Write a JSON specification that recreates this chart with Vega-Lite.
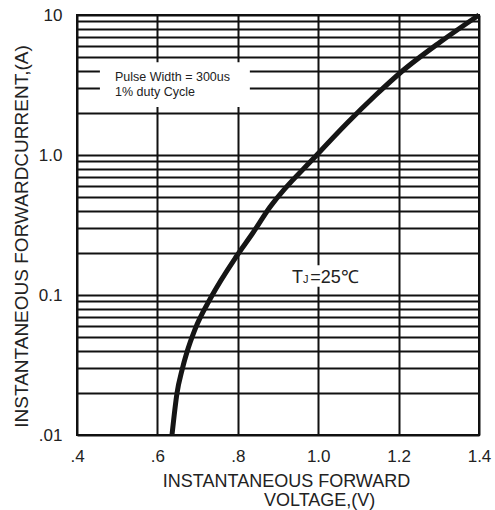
{
  "$schema": "https://vega.github.io/schema/vega-lite/v6.json",
  "autosize": "none",
  "width": 402,
  "height": 420,
  "padding": {"left": 77, "top": 15, "right": 16, "bottom": 75},
  "background": "white",
  "title": {"text": "VOLTAGE,(V)", "orient": "bottom", "anchor": "start", "frame": "group", "dx": 187, "offset": 2, "fontSize": 18, "font": "Liberation Sans", "fontWeight": "normal", "color": "#222"},
  "config": {
    "view": {"stroke": "#111", "strokeWidth": 2},
    "font": "Liberation Sans",
    "axis": {
      "grid": true, "gridColor": "#111", "gridWidth": 2, "gridOpacity": 1,
      "ticks": false, "domain": false,
      "labelFont": "Liberation Sans", "labelFontSize": 17, "labelColor": "#222",
      "titleFont": "Liberation Sans", "titleFontSize": 18, "titleFontWeight": "normal", "titleColor": "#222",
      "labelOverlap": false, "labelFlush": false
    }
  },
  "datasets": {
    "curve": [
      {"v": 0.6363, "i": 0.01},
      {"v": 0.6488, "i": 0.01995},
      {"v": 0.6612, "i": 0.0291},
      {"v": 0.6736, "i": 0.0392},
      {"v": 0.6928, "i": 0.0562},
      {"v": 0.7338, "i": 0.0967},
      {"v": 0.7955, "i": 0.1868},
      {"v": 0.8373, "i": 0.2773},
      {"v": 0.8801, "i": 0.425},
      {"v": 0.9965, "i": 1.0},
      {"v": 1.0721, "i": 1.693},
      {"v": 1.1433, "i": 2.683},
      {"v": 1.2035, "i": 3.853},
      {"v": 1.3037, "i": 6.413},
      {"v": 1.4, "i": 10}
    ],
    "boxes": [
      {"x1": 0.457, "x2": 0.83, "y1": 2.2, "y2": 4.6},
      {"x1": 0.93, "x2": 1.1, "y1": 0.1145, "y2": 0.163}
    ],
    "notes": [
      {"x": 0.4945, "y": 3.62, "t": "Pulse Width = 300us"},
      {"x": 0.4945, "y": 2.84, "t": "1% duty Cycle"}
    ],
    "tj": [
      {"x": 0.935, "y": 0.122, "t": "T", "s": "big"},
      {"x": 0.962, "y": 0.122, "t": "J", "s": "small"},
      {"x": 0.98, "y": 0.122, "t": "=25℃", "s": "big"}
    ]
  },
  "layer": [
    {
      "data": {"name": "boxes"},
      "mark": {"type": "rect", "color": "white"},
      "encoding": {
        "x": {"field": "x1", "type": "quantitative", "scale": {"domain": [0.4, 1.4], "nice": false, "zero": false},
          "axis": {
            "values": [0.4, 0.6, 0.8, 1.0, 1.2, 1.4],
            "labelExpr": "datum.value < 0.99 ? replace(format(datum.value, '.1f'), '0.', '.') : format(datum.value, '.1f')",
            "labelPadding": 13,
            "title": "INSTANTANEOUS FORWARD",
            "titleX": 209, "titleY": 37, "titleAlign": "center", "titleBaseline": "top"
          }},
        "x2": {"field": "x2"},
        "y": {"field": "y1", "type": "quantitative", "scale": {"type": "log", "domain": [0.01, 10], "nice": false},
          "axis": {
            "values": [0.01, 0.02, 0.03, 0.04, 0.05, 0.06, 0.07, 0.08, 0.09, 0.1, 0.2, 0.3, 0.4, 0.5, 0.6, 0.7, 0.8, 0.9, 1, 2, 3, 4, 5, 6, 7, 8, 9, 10],
            "labelExpr": "datum.value == 0.01 ? '.01' : datum.value == 0.1 ? '0.1' : datum.value == 1 ? '1.0' : datum.value == 10 ? '10' : ''",
            "labelPadding": 15,
            "title": "INSTANTANEOUS FORWARDCURRENT,(A)",
            "titleFontSize": 19,
            "titleAngle": 270, "titleX": -50, "titleY": 221, "titleAlign": "center", "titleBaseline": "alphabetic"
          }},
        "y2": {"field": "y2"}
      }
    },
    {
      "data": {"name": "curve"},
      "mark": {"type": "line", "color": "#151515", "strokeWidth": 5, "interpolate": "monotone"},
      "encoding": {
        "x": {"field": "v", "type": "quantitative"},
        "y": {"field": "i", "type": "quantitative"}
      }
    },
    {
      "data": {"name": "notes"},
      "mark": {"type": "text", "align": "left", "baseline": "middle", "fontSize": 12.5, "font": "Liberation Sans", "color": "#222"},
      "encoding": {
        "x": {"field": "x", "type": "quantitative"},
        "y": {"field": "y", "type": "quantitative"},
        "text": {"field": "t"}
      }
    },
    {
      "data": {"name": "tj"},
      "mark": {"type": "text", "align": "left", "baseline": "alphabetic", "font": "Liberation Sans", "color": "#222"},
      "encoding": {
        "x": {"field": "x", "type": "quantitative"},
        "y": {"field": "y", "type": "quantitative"},
        "text": {"field": "t"},
        "size": {"field": "s", "type": "nominal", "scale": {"domain": ["big", "small"], "range": [18, 11]}, "legend": null}
      }
    }
  ]
}
